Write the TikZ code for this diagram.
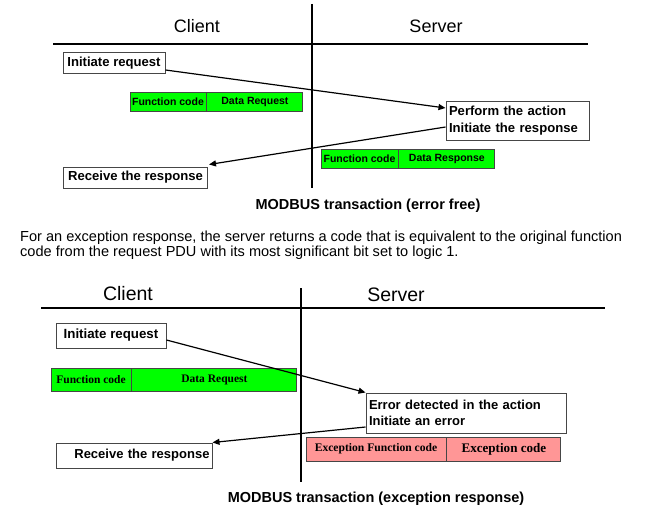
\documentclass[tikz,border=0pt]{standalone}
\usepackage{fontspec}
\setmainfont{Liberation Sans}
\newfontfamily\timesf{Liberation Serif}
\usetikzlibrary{arrows.meta,calc}
\definecolor{pktgreen}{RGB}{0,255,0}
\definecolor{pktpink}{RGB}{255,150,150}
\definecolor{edgegray}{RGB}{70,70,70}
\tikzset{
  lane/.style={line width=2.3pt, black},
  box/.style={draw=edgegray, line width=1pt, fill=white, inner sep=0pt, font=\fontsize{13.1}{16.3}\selectfont\bfseries},
  gbox/.style={draw=edgegray, line width=0.9pt, fill=pktgreen, inner sep=0pt, font=\fontsize{10.5}{12}\selectfont\bfseries},
  gboxt/.style={draw=edgegray, line width=0.9pt, fill=pktgreen, inner sep=0pt, font=\timesf\fontsize{11.5}{13}\selectfont\bfseries},
  pbox/.style={draw=edgegray, line width=0.9pt, fill=pktpink, inner sep=0pt, font=\timesf\bfseries},
  head/.style={font=\fontsize{18}{20}\selectfont},
  caption/.style={anchor=base, inner sep=0pt, font=\fontsize{14.5}{16}\selectfont\bfseries},
  msg/.style={line width=1.2pt, -{Triangle[length=7pt,width=6pt]}},
}
\begin{document}
\begin{tikzpicture}[x=1pt,y=-1pt]
\useasboundingbox[fill=white] (0,0) rectangle (650,511);
% ---------- top diagram ----------
\node[head] (cl1) at (197,26) {Client};
\node[head] (sv1) at (436,26) {Server};
\coordinate (h1a) at (53,44); \coordinate (h1b) at (588,44);
\coordinate (v1a) at (312,4); \coordinate (v1b) at (312,188);
\draw[lane] (h1a) -- (h1b);
\draw[lane] (v1a) -- (v1b);
\node[box, minimum width=102pt, minimum height=20pt] (ir1) at (114,63) {Initiate request};
\node[gbox, minimum width=76pt, minimum height=19pt] (fc1) at (168,101.5) {Function code};
\node[gbox, minimum width=96pt, minimum height=19pt, anchor=west] (dr1) at (fc1.east) {Data Request};
\node[box, minimum width=143pt, minimum height=39pt, text width=137pt, align=left] (pa1) at (517.5,120.5) {Perform the action\\Initiate the response};
\node[gbox, minimum width=77pt, minimum height=19pt] (fc2) at (359.5,158.5) {Function code};
\node[gbox, minimum width=96pt, minimum height=19pt, anchor=west] (dr2) at (fc2.east) {Data Response};
\node[box, minimum width=144pt, minimum height=21pt] (rr1) at (135.5,177.5) {Receive the response};
\draw[msg] ([yshift=-7pt]ir1.east) -- ([yshift=12.5pt]pa1.west);
\draw[msg] ([yshift=-6.5pt]pa1.west) -- ([xshift=1pt,yshift=2pt]rr1.north east);
\node[caption] (cap1) at (368,209) {MODBUS transaction (error free)};
% ---------- paragraph ----------
\node[anchor=west, align=left, inner sep=0pt, font=\fontsize{14.55}{15}\selectfont] (para) at (20,245.5)
  {For an exception response, the server returns a code that is equivalent to the original function\\code from the request PDU with its most significant bit set to logic 1.};
% ---------- bottom diagram ----------
\node[head, font=\fontsize{19.5}{22}\selectfont] (cl2) at (128,294) {Client};
\node[head, font=\fontsize{19.5}{22}\selectfont] (sv2) at (396,295) {Server};
\coordinate (h2a) at (41,308); \coordinate (h2b) at (605,308);
\coordinate (v2a) at (301,288); \coordinate (v2b) at (301,482);
\draw[lane] (h2a) -- (h2b);
\draw[lane] (v2a) -- (v2b);
\node[box, font=\fontsize{13.3}{15}\selectfont\bfseries, minimum width=110pt, minimum height=25pt] (ir2) at (111,335.5) {Initiate request};
\node[gboxt, minimum width=80pt, minimum height=23pt] (fc3) at (91,379.5) {Function code};
\node[gboxt, minimum width=165pt, minimum height=23pt, anchor=west] (dr3) at (fc3.east) {Data Request};
\node[box, font=\fontsize{13}{16}\selectfont\bfseries, minimum width=200pt, minimum height=40pt, text width=194pt, align=left] (ed) at (466,413) {Error detected in the action\\Initiate an error};
\node[pbox, font=\timesf\fontsize{11.6}{13}\selectfont\bfseries, minimum width=140pt, minimum height=24pt] (ef) at (376,449) {Exception Function code};
\node[pbox, font=\timesf\fontsize{13.1}{14}\selectfont\bfseries, minimum width=114pt, minimum height=24pt, anchor=west] (ec) at (ef.east) {Exception code};
\node[box, font=\fontsize{13}{15}\selectfont\bfseries, minimum width=156pt, minimum height=25pt, text width=151pt, align=right] (rr2) at (134,455.5) {Receive the response};
\draw[msg] ([yshift=-4.5pt]ir2.east) -- (ed.north west);
\draw[msg] ([yshift=-14pt]ed.west) -- (rr2.north east);
\node[caption] (cap2) at (376,502) {MODBUS transaction (exception response)};
\end{tikzpicture}
\end{document}
